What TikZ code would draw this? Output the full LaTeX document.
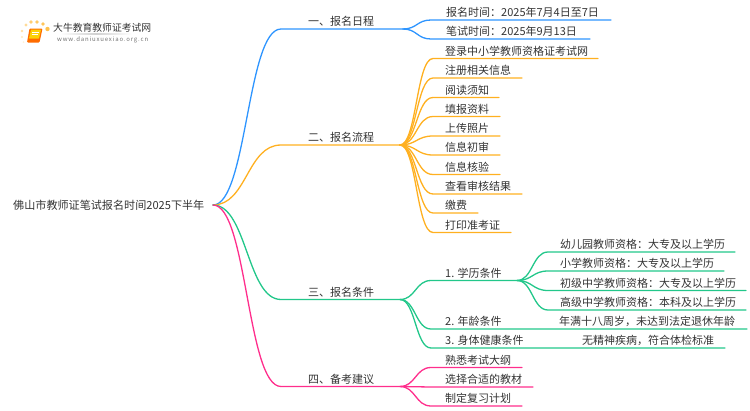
\documentclass[tikz,border=0pt]{standalone}
\usepackage{fontspec}
\setmainfont{Noto Sans CJK SC}
\usetikzlibrary{calc}
\definecolor{cblue}{HTML}{2E95FF}
\definecolor{corange}{HTML}{FFB020}
\definecolor{cgreen}{HTML}{22C78A}
\definecolor{cpink}{HTML}{FF2E8C}
\definecolor{ctext}{HTML}{333333}
\tikzset{
  txt/.style={anchor=base west,inner sep=0pt,text=ctext,font=\fontsize{11}{13}\selectfont},
  wire/.style={line width=1.3pt,line cap=round,line join=round},
  link/.style={to path={let \p1=(\tikztostart),\p2=(\tikztotarget),\n1={0.5*(\x2-\x1)} in
     .. controls ({\x1+\n1},\y1) and ({\x2-\n1},\y2) .. (\p2)}},
}
% name, parent, colour, curve-end x, line y, end x, text x, text
\newcommand{\mapitem}[8]{%
  \coordinate (#1s) at (#4,#5);
  \coordinate (#1e) at (#6,#5);
  \node[txt] (#1) at (#7,#5-3.4) {#8};
  \draw[wire,#3] (#2) to[link] (#1s) -- (#1e);
}
\begin{document}
\begin{tikzpicture}[x=1pt,y=-1pt]
\useasboundingbox (0,0) rectangle (750,410);
% logo
\foreach \a/\b/\r/\c in {26/25/1.6/40,31/22/1.9/55,37/22/1.9/60,43/24/1.9/65,47.5/29/2.2/70,22/31/1.4/35,22/37/1.2/25,23.5/42/1/15}
  \fill[orange!70!yellow!\c!white] (\a,\b) circle (\r);
\fill[rounded corners=1pt,orange!85!red] (29.5,28.5) -- (42.5,28.5) -- (39.5,42.5) -- (27,42.5) -- cycle;
\fill[rounded corners=0.5pt,yellow!70!orange] (31,29.5) -- (41,29.5) -- (39,38.5) -- (29,38.5) -- cycle;
\draw[white,line width=.4pt] (32,32) -- (38.5,32) (31.5,34.5) -- (38,34.5);
\node[anchor=base west,inner sep=0pt,text=ctext,font=\fontsize{9.8}{12}\selectfont] (logot) at (53,31) {大牛教育教师证考试网};
\node[anchor=base west,inner sep=0pt,text=black!55,font=\fontsize{6}{7}\selectfont\addfontfeature{LetterSpace=14}] (logou) at (57,41.5) {www.daniuxuexiao.org.cn};
\fill[left color=white,right color=white,middle color=black!18] (60,33) rectangle (132,34);
% root
\node[txt,font=\fontsize{11.1}{13}\selectfont] (root) at (13,209) {佛山市教师证笔试报名时间2025下半年};
\coordinate (rp) at (213,205);
% branches
\mapitem{b1}{rp}{cblue}{281}{29}{403}{308}{一、报名日程}
\mapitem{b2}{rp}{corange}{281}{145}{400}{308}{二、报名流程}
\mapitem{b3}{rp}{cgreen}{281}{299.5}{400}{308}{三、报名条件}
\mapitem{b4}{rp}{cpink}{281}{386.5}{400}{308}{四、备考建议}
% branch 1
\mapitem{a1}{b1e}{cblue}{431}{20}{611}{446}{报名时间：2025年7月4日至7日}
\mapitem{a2}{b1e}{cblue}{431}{39}{590}{446}{笔试时间：2025年9月13日}
% branch 2
\mapitem{p1}{b2e}{corange}{433}{58.5}{598}{445}{登录中小学教师资格证考试网}
\mapitem{p2}{b2e}{corange}{433}{78}{522}{445}{注册相关信息}
\mapitem{p3}{b2e}{corange}{433}{97.5}{499}{445}{阅读须知}
\mapitem{p4}{b2e}{corange}{433}{116.5}{500}{445}{填报资料}
\mapitem{p5}{b2e}{corange}{433}{136}{500}{445}{上传照片}
\mapitem{p6}{b2e}{corange}{433}{155}{500}{445}{信息初审}
\mapitem{p7}{b2e}{corange}{433}{174.5}{500}{445}{信息核验}
\mapitem{p8}{b2e}{corange}{433}{194}{522}{445}{查看审核结果}
\mapitem{p9}{b2e}{corange}{433}{213}{478}{445}{缴费}
\mapitem{p10}{b2e}{corange}{433}{232.5}{511}{445}{打印准考证}
% branch 3
\mapitem{c1}{b3e}{cgreen}{431}{280.5}{517}{445}{1. 学历条件}
\mapitem{c2}{b3e}{cgreen}{431}{329}{747}{445}{2. 年龄条件}
\mapitem{c3}{b3e}{cgreen}{431}{348}{725}{445}{3. 身体健康条件}
\node[txt] (c2t) at (559,325.6) {年满十八周岁，未达到法定退休年龄};
\node[txt] (c3t) at (582,344.6) {无精神疾病，符合体检标准};
\mapitem{e1}{c1e}{cgreen}{548}{252}{735}{560}{幼儿园教师资格：大专及以上学历}
\mapitem{e2}{c1e}{cgreen}{548}{271}{724}{560}{小学教师资格：大专及以上学历}
\mapitem{e3}{c1e}{cgreen}{548}{290.5}{746}{560}{初级中学教师资格：大专及以上学历}
\mapitem{e4}{c1e}{cgreen}{548}{310}{746}{560}{高级中学教师资格：本科及以上学历}
% branch 4
\mapitem{f1}{b4e}{cpink}{431}{367.5}{522}{445}{熟悉考试大纲}
\mapitem{f2}{b4e}{cpink}{431}{387}{533}{445}{选择合适的教材}
\mapitem{f3}{b4e}{cpink}{431}{406}{522}{445}{制定复习计划}
\end{tikzpicture}
\end{document}
